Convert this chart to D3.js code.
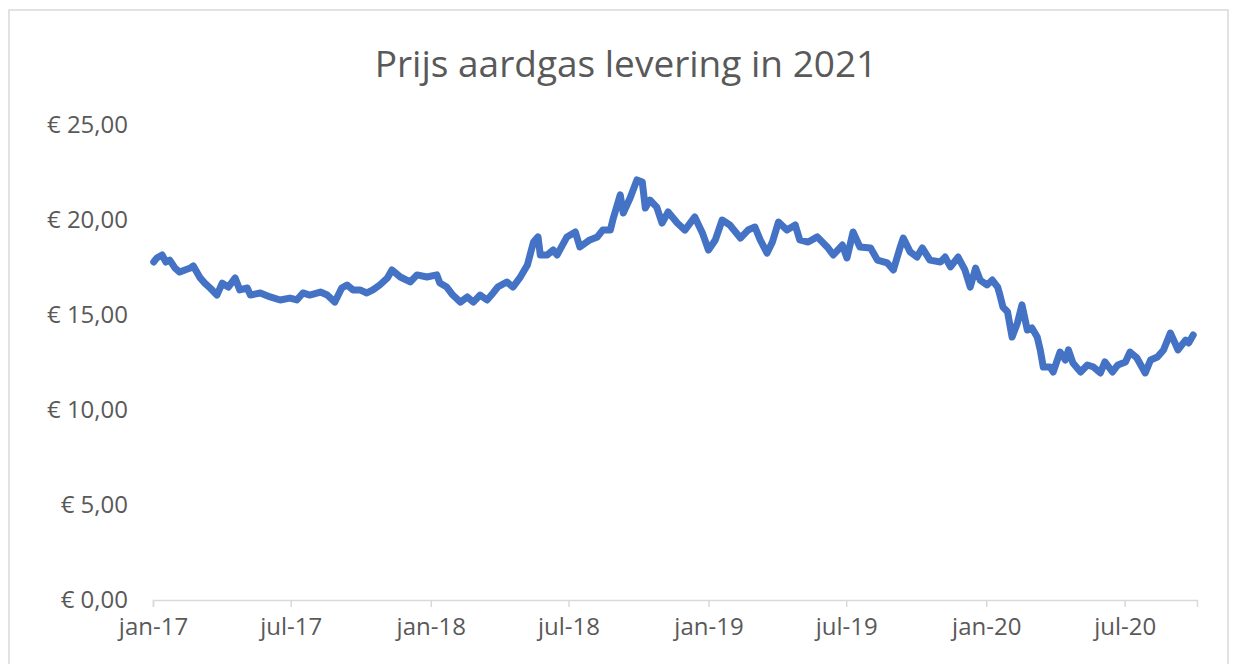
<!DOCTYPE html>
<html>
<head>
<meta charset="utf-8">
<script src="https://cdn.jsdelivr.net/npm/d3@7"></script>
<style>
  body { margin: 0; background: #fff; }
  svg { display: block; }
  .tick text { fill: #595959; font-family: "Open Sans", "Noto Sans", sans-serif; }
</style>
</head>
<body>
<svg></svg>
<script>
// prijsdata (euro), gelezen uit de grafiek
const dates = [
  "2017-01-02","2017-01-06","2017-01-13","2017-01-18","2017-01-23","2017-01-30","2017-02-05","2017-02-12","2017-02-19","2017-02-23",
  "2017-03-04","2017-03-10","2017-03-17","2017-03-26","2017-04-02","2017-04-10","2017-04-19","2017-04-25","2017-05-05","2017-05-09",
  "2017-05-22","2017-06-04","2017-06-17","2017-06-30","2017-07-09","2017-07-17","2017-07-26","2017-08-09","2017-08-18","2017-08-28",
  "2017-09-06","2017-09-13","2017-09-21","2017-09-30","2017-10-09","2017-10-17","2017-10-26","2017-11-05","2017-11-11","2017-11-22",
  "2017-12-05","2017-12-14","2017-12-27","2018-01-09","2018-01-13","2018-01-22","2018-01-30","2018-02-09","2018-02-18","2018-02-26",
  "2018-03-07","2018-03-16","2018-03-24","2018-03-30","2018-04-11","2018-04-19","2018-04-28","2018-05-08","2018-05-16","2018-05-22",
  "2018-05-25","2018-06-03","2018-06-11","2018-06-16","2018-06-29","2018-07-10","2018-07-16","2018-07-29","2018-08-08","2018-08-15",
  "2018-08-25","2018-08-29","2018-09-07","2018-09-11","2018-09-20","2018-09-29","2018-10-06","2018-10-10","2018-10-16","2018-10-25",
  "2018-11-01","2018-11-09","2018-11-21","2018-12-01","2018-12-14","2018-12-24","2019-01-01","2019-01-10","2019-01-19","2019-01-29",
  "2019-02-12","2019-02-22","2019-03-03","2019-03-10","2019-03-19","2019-03-26","2019-04-03","2019-04-14","2019-04-25","2019-05-01",
  "2019-05-12","2019-05-24","2019-06-06","2019-06-14","2019-06-26","2019-07-02","2019-07-10","2019-07-19","2019-08-02","2019-08-11",
  "2019-08-24","2019-09-01","2019-09-10","2019-09-14","2019-09-23","2019-10-02","2019-10-09","2019-10-19","2019-11-02","2019-11-08",
  "2019-11-15","2019-11-25","2019-12-04","2019-12-11","2019-12-18","2019-12-24","2020-01-02","2020-01-09","2020-01-16","2020-01-19",
  "2020-01-23","2020-01-29","2020-02-04","2020-02-11","2020-02-17","2020-02-24","2020-03-01","2020-03-08","2020-03-12","2020-03-16",
  "2020-03-25","2020-03-29","2020-04-07","2020-04-14","2020-04-18","2020-04-24","2020-05-04","2020-05-13","2020-05-21","2020-05-30",
  "2020-06-05","2020-06-15","2020-06-22","2020-07-02","2020-07-08","2020-07-17","2020-07-28","2020-08-04","2020-08-13","2020-08-21",
  "2020-08-30","2020-09-05","2020-09-09","2020-09-19","2020-09-23","2020-09-29"
];

const prices = [
  17.79,18.00,18.16,17.79,17.89,17.47,17.26,17.37,17.47,17.58,
  16.95,16.68,16.42,16.05,16.68,16.47,16.95,16.32,16.42,16.05,
  16.16,15.95,15.79,15.89,15.79,16.16,16.05,16.21,16.05,15.68,
  16.42,16.58,16.32,16.32,16.16,16.32,16.58,16.95,17.37,17.00,
  16.74,17.11,17.00,17.11,16.68,16.47,16.05,15.68,15.95,15.68,
  16.05,15.79,16.16,16.47,16.74,16.47,16.95,17.63,18.84,19.11,
  18.16,18.16,18.42,18.16,19.11,19.37,18.58,18.95,19.11,19.47,
  19.47,20.11,21.32,20.37,21.16,22.11,22.00,20.63,21.05,20.68,
  19.84,20.42,19.84,19.47,20.16,19.32,18.42,18.95,20.00,19.74,
  19.05,19.47,19.63,18.95,18.26,18.84,19.89,19.47,19.74,18.95,
  18.84,19.11,18.58,18.16,18.68,18.00,19.37,18.58,18.53,17.89,
  17.74,17.37,18.58,19.05,18.32,18.05,18.53,17.89,17.79,18.05,
  17.53,18.05,17.37,16.47,17.47,16.84,16.58,16.84,16.47,16.05,
  15.42,15.16,13.84,14.58,15.53,14.21,14.32,13.84,13.16,12.26,
  12.26,12.00,13.05,12.63,13.16,12.47,12.00,12.37,12.26,11.95,
  12.53,12.00,12.37,12.53,13.05,12.74,11.95,12.63,12.79,13.16,
  14.05,13.53,13.16,13.68,13.53,13.95
];

const xTickDates = ["2017-01-01","2017-07-01","2018-01-01","2018-07-01","2019-01-01","2019-07-01","2020-01-01","2020-07-01"];
const xTickLabels = ["jan-17","jul-17","jan-18","jul-18","jan-19","jul-19","jan-20","jul-20"];
const yTicks = [0, 5, 10, 15, 20, 25];

const title = "Prijs aardgas levering in 2021";

const width = 1236;
const height = 664;
const parse = d3.utcParse("%Y-%m-%d");

const svg = d3.select("svg")
  .attr("width", width)
  .attr("height", height);

// kader
svg.append("rect")
  .attr("x", 9).attr("y", 10)
  .attr("width", 1219).attr("height", 670)
  .attr("fill", "none")
  .attr("stroke", "#d9d9d9")
  .attr("stroke-width", 1.5);

svg.append("text")
  .attr("x", 626)
  .attr("y", 77)
  .attr("text-anchor", "middle")
  .attr("fill", "#595959")
  .style("font-family", "'Open Sans', 'Noto Sans', sans-serif")
  .style("font-size", "37px")
  .text(title);

const x = d3.scaleUtc()
  .domain([parse("2017-01-01"), parse("2020-10-04")])
  .range([153, 1197]);

const y = d3.scaleLinear()
  .domain([0, 25])
  .range([600, 125]);

const euro = d3.formatLocale({ decimal: ",", thousands: ".", grouping: [3], currency: ["€ ", ""] }).format("$.2f");

// y-as (alleen labels)
const yAxis = svg.append("g")
  .attr("transform", "translate(140,0)")
  .call(d3.axisLeft(y).tickValues(yTicks).tickFormat(euro).tickSize(0).tickPadding(12));
yAxis.select(".domain").remove();
yAxis.selectAll("text").style("font-size", "24px");

// x-as
const xAxis = svg.append("g")
  .attr("transform", "translate(0,600)")
  .call(d3.axisBottom(x)
    .tickValues(xTickDates.map(parse))
    .tickFormat((d, i) => xTickLabels[i])
    .tickSizeOuter(0)
    .tickSize(7)
    .tickPadding(11));
xAxis.select(".domain").attr("stroke", "#d9d9d9").attr("stroke-width", 1.5);
xAxis.selectAll(".tick line").attr("stroke", "#d9d9d9").attr("stroke-width", 1.5);
xAxis.selectAll("text").style("font-size", "24px");

const line = d3.line()
  .x((d, i) => x(parse(dates[i])))
  .y(d => y(d))
  .curve(d3.curveLinear);

svg.append("path")
  .datum(prices)
  .attr("fill", "none")
  .attr("stroke", "#4472c4")
  .attr("stroke-width", 7)
  .attr("stroke-linejoin", "round")
  .attr("stroke-linecap", "round")
  .attr("d", line);
</script>
</body>
</html>
